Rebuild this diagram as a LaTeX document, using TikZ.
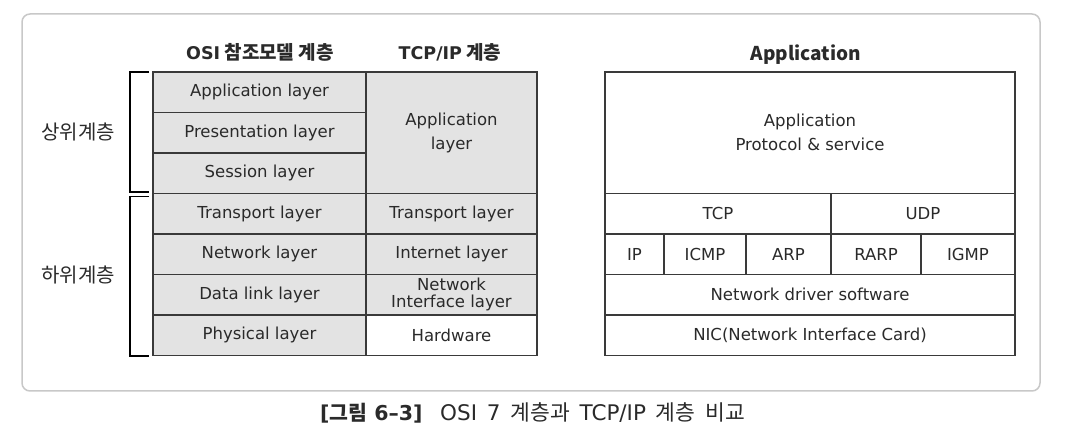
\documentclass[tikz,border=0pt]{standalone}
\usepackage{fontspec}
\setmainfont{DejaVu Sans}
\newfontfamily\ko{Noto Sans CJK KR}
\definecolor{cellg}{HTML}{E3E3E3}
\definecolor{linec}{HTML}{3A3A3A}
\definecolor{framec}{HTML}{C8C8C8}
\definecolor{txt}{HTML}{2A2A2A}
\begin{document}
\begin{tikzpicture}[x=1pt,y=-1pt,
  cell/.style={draw=linec, line width=1.3pt, inner sep=0pt, align=center,
    font=\fontsize{16.5}{18}\selectfont, text=txt, minimum height=40.5pt},
  osi/.style={cell, fill=cellg, minimum width=213pt},
  tcpip/.style={cell, fill=cellg, minimum width=171pt},
  rt/.style={cell, fill=white},
  head/.style={font=\ko\bfseries\fontsize{19}{21}\selectfont, text=txt, inner sep=0pt},
  side/.style={font=\ko\fontsize{20}{22}\selectfont, text=txt, inner sep=0pt},
  capt/.style={font=\fontsize{21.5}{24}\selectfont, text=txt, anchor=west, inner sep=0pt},
  brk/.style={draw=black, line width=1.3pt}
]
\useasboundingbox (0,0) rectangle (1080,446);
\draw[draw=framec, line width=1.5pt, rounded corners=8pt, fill=white] (22,14) rectangle (1040,391);

% headers
\node[head] (h1) at (260,52) {{\rmfamily\bfseries\fontsize{17.5}{21}\selectfont OSI} 참조모델 계층};
\node[head] (h2) at (450,52) {{\rmfamily\bfseries\fontsize{17.5}{21}\selectfont TCP/IP} 계층};
\node[head] (h3) at (806,55) {Application};

% OSI column
\node[osi] (o1) at (259.5,92.25) {Application layer};
\node[osi] (o2) at (259.5,132.75) {Presentation layer};
\node[osi] (o3) at (259.5,173.25) {Session layer};
\node[osi] (o4) at (259.5,213.75) {Transport layer};
\node[osi] (o5) at (259.5,254.25) {Network layer};
\node[osi] (o6) at (259.5,294.75) {Data link layer};
\node[osi] (o7) at (259.5,335.25) {Physical layer};

% TCP/IP column
\node[tcpip, minimum height=121.5pt] (t1) at (451.5,132.75) {Application\\[6pt]layer};
\node[tcpip] (t2) at (451.5,213.75) {Transport layer};
\node[tcpip] (t3) at (451.5,254.25) {Internet layer};
\node[tcpip, font=\fontsize{16.5}{17}\selectfont] (t4) at (451.5,294.75) {Network\\Interface layer};
\node[tcpip, fill=white] (t5) at (451.5,335.25) {Hardware};

% brackets
\draw[brk] (149,72) -- (130,72) -- (130,192) -- (149,192);
\draw[brk] (149,196.5) -- (130,196.5) -- (130,356) -- (149,356);
\node[side] (up) at (78,132) {상위계층};
\node[side] (low) at (78,275) {하위계층};

% right stack
\node[rt, minimum width=410pt, minimum height=121.5pt] (ra) at (810,132.75) {Application\\[6pt]Protocol \& service};
\node[rt, minimum width=226pt] (tcp) at (718,213.75) {TCP};
\node[rt, minimum width=184pt] (udp) at (923,213.75) {UDP};
\node[rt, minimum width=59pt] (ip) at (634.5,254.25) {IP};
\node[rt, minimum width=82pt] (icmp) at (705,254.25) {ICMP};
\node[rt, minimum width=85pt] (arp) at (788.5,254.25) {ARP};
\node[rt, minimum width=90pt] (rarp) at (876,254.25) {RARP};
\node[rt, minimum width=94pt] (igmp) at (968,254.25) {IGMP};
\node[rt, minimum width=410pt] (drv) at (810,294.75) {Network driver software};
\node[rt, minimum width=410pt] (nic) at (810,335.25) {NIC(Network Interface Card)};

% caption
\node[capt, font=\fontsize{20.5}{24}\selectfont] (cap1) at (320,413) {\bfseries [{\ko\bfseries 그림} 6–3]};
\node[capt] (cap2) at (440,413) {OSI\hspace{3pt} 7\hspace{3pt} {\ko 계층과}\hspace{3pt} TCP/IP\hspace{3pt} {\ko 계층}\hspace{3pt} {\ko 비교}};
\end{tikzpicture}
\end{document}
